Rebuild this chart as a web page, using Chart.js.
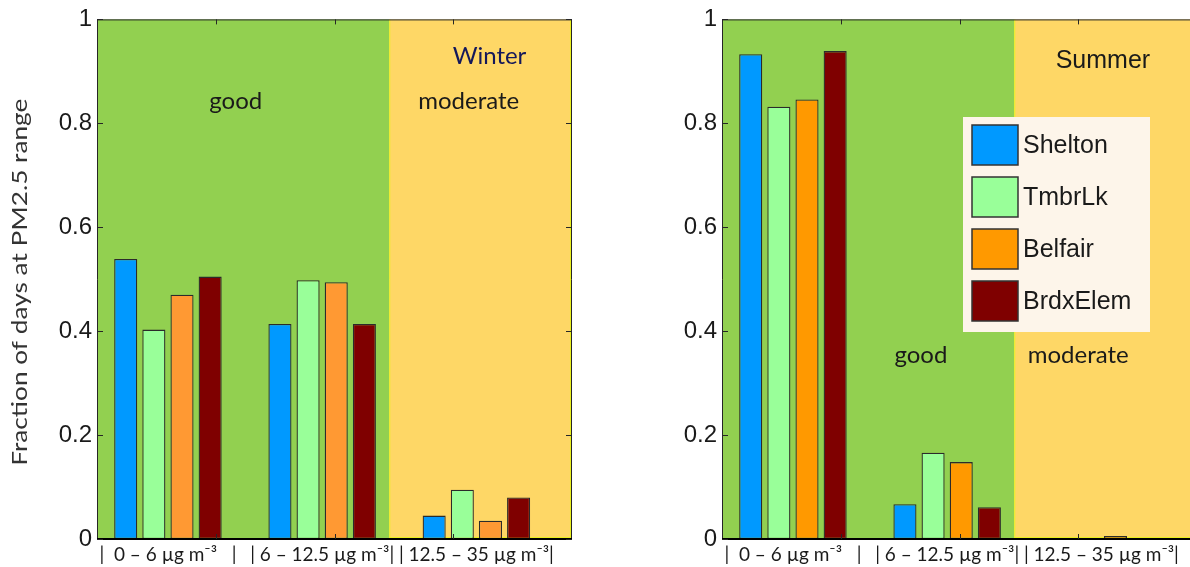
<!DOCTYPE html>
<html>
<head>
<meta charset="utf-8">
<script src="https://cdn.jsdelivr.net/npm/chart.js@4/dist/chart.umd.min.js"></script>
<style>
  html, body { margin: 0; padding: 0; background: #fff; overflow: hidden; }
  #wrap { position: relative; width: 1190px; height: 567px; overflow: hidden; }
  canvas { position: absolute; top: 0; }
  #winter { left: 0; }
  #summer { left: 600px; }
</style>
</head>
<body>
<div id="wrap">
  <canvas id="winter" width="600" height="567"></canvas>
  <canvas id="summer" width="600" height="567"></canvas>
</div>
<script>
// ---- data ----
var sites = ['Shelton', 'TmbrLk', 'Belfair', 'BrdxElem'];
var rangeLabels = ['|  0 \u2013 6 \u00b5g m\u207b\u00b3   |', '| 6 \u2013 12.5 \u00b5g m\u207b\u00b3|', '| 12.5 \u2013 35 \u00b5g m\u207b\u00b3|'];
var rangePos = [1, 2, 3];
var yTicks = [0, 0.2, 0.4, 0.6, 0.8, 1];
var edgeTicks = [1.31, 2.08, 2.85];   // the odd MATLAB tick marks on top/bottom edges
var goodLimit = 2.435;                // where "good" turns into "moderate"

var winterShelton  = [0.539, 0.414, 0.045];
var winterTmbrLk   = [0.403, 0.498, 0.095];
var winterBelfair  = [0.470, 0.494, 0.035];
var winterBrdxElem = [0.505, 0.414, 0.080];

var summerShelton  = [0.933, 0.067, 0];
var summerTmbrLk   = [0.832, 0.166, 0];
var summerBelfair  = [0.846, 0.148, 0.006];
var summerBrdxElem = [0.939, 0.061, 0];

var COLORS = {
  green: '#92D050',
  yellow: '#FED766',
  edge: '#E9F01E',
  frame: '#262626',
  text: '#1a1a1a'
};

/** Backgrounds, frame, inward tick marks, text labels and legend. */
var panelPlugin = {
  id: 'panel',
  beforeDatasetsDraw: function(chart) {
    var ctx = chart.ctx, a = chart.chartArea, x = chart.scales.x;
    var split = x.getPixelForValue(goodLimit);
    ctx.save();
    ctx.fillStyle = COLORS.green;
    ctx.fillRect(a.left, a.top, split - a.left, a.bottom - a.top);
    ctx.fillStyle = COLORS.yellow;
    ctx.fillRect(split, a.top, a.right - split, a.bottom - a.top);
    ctx.strokeStyle = COLORS.edge;
    ctx.lineWidth = 1;
    ctx.beginPath();
    ctx.moveTo(split + 0.5, a.top); ctx.lineTo(split + 0.5, a.bottom);
    ctx.moveTo(split, a.bottom - 1.5); ctx.lineTo(a.right, a.bottom - 1.5);
    ctx.moveTo(a.right - 1.5, a.top); ctx.lineTo(a.right - 1.5, a.bottom);
    ctx.stroke();
    ctx.restore();
  },
  afterDatasetsDraw: function(chart, args, opts) {
    var ctx = chart.ctx, a = chart.chartArea;
    var x = chart.scales.x, y = chart.scales.y;
    ctx.save();

    // frame
    ctx.strokeStyle = COLORS.frame;
    ctx.lineWidth = 1;
    ctx.beginPath();
    ctx.moveTo(a.left + 0.5, a.bottom); ctx.lineTo(a.left + 0.5, a.top + 0.5);
    ctx.lineTo(a.right - 0.5, a.top + 0.5); ctx.lineTo(a.right - 0.5, a.bottom);
    ctx.stroke();
    ctx.strokeStyle = '#000';
    ctx.lineWidth = 2;
    ctx.beginPath();
    ctx.moveTo(a.left, a.bottom); ctx.lineTo(a.right, a.bottom);
    ctx.stroke();

    // inward tick marks
    ctx.strokeStyle = COLORS.frame;
    ctx.lineWidth = 1;
    ctx.beginPath();
    yTicks.forEach(function(v) {
      var py = Math.round(y.getPixelForValue(v)) + 0.5;
      ctx.moveTo(a.left, py); ctx.lineTo(a.left + 6, py);
      ctx.moveTo(a.right, py); ctx.lineTo(a.right - 6, py);
    });
    edgeTicks.forEach(function(v) {
      var px = Math.round(x.getPixelForValue(v)) + 0.5;
      ctx.moveTo(px, a.top); ctx.lineTo(px, a.top + 5);
      ctx.moveTo(px, a.bottom); ctx.lineTo(px, a.bottom - 5);
    });
    ctx.stroke();

    // text annotations, positioned in data units
    ctx.textAlign = 'center';
    ctx.textBaseline = 'middle';
    (opts.notes || []).forEach(function(n) {
      ctx.font = n.font;
      ctx.fillStyle = n.color || COLORS.text;
      ctx.fillText(n.text, x.getPixelForValue(n.x), y.getPixelForValue(n.y));
    });

    // y title: the source figure is stretched vertically, so stretch the text too
    if (opts.yTitle) {
      ctx.save();
      ctx.translate(opts.yTitle.x, (a.top + a.bottom) / 2 + opts.yTitle.dy);
      ctx.rotate(-Math.PI / 2);
      ctx.scale(opts.yTitle.stretch, 1);
      ctx.font = opts.yTitle.font;
      ctx.fillStyle = '#333';
      ctx.fillText(opts.yTitle.text, 0, 0);
      ctx.restore();
    }

    // legend box
    var lg = opts.legend;
    if (lg) {
      ctx.fillStyle = '#FDF5EA';
      ctx.fillRect(lg.x, lg.y, lg.w, lg.h);
      ctx.font = lg.font;
      ctx.textAlign = 'left';
      chart.data.datasets.forEach(function(ds, i) {
        var top = lg.y + lg.pad + i * lg.pitch;
        ctx.fillStyle = ds.backgroundColor;
        ctx.fillRect(lg.x + 9, top, lg.sw, lg.sh);
        ctx.strokeStyle = '#333';
        ctx.lineWidth = 1.5;
        ctx.strokeRect(lg.x + 9, top, lg.sw, lg.sh);
        ctx.fillStyle = COLORS.text;
        ctx.fillText(ds.label, lg.x + 9 + lg.sw + 5, top + lg.sh / 2 + 1);
      });
    }
    ctx.restore();
  }
};

/** Build one season panel */
function makeChart(canvasId, series, colors, opts) {
  var datasets = sites.map(function(name, i) {
    return {
      label: name,
      data: rangePos.map(function(p, j) { return { x: p, y: series[i][j] }; }),
      backgroundColor: colors[i],
      borderColor: '#2b2b2b',
      borderWidth: 1.3,
      borderSkipped: false,
      categoryPercentage: 0.73,
      barPercentage: 0.82
    };
  });

  return new Chart(document.getElementById(canvasId), {
    type: 'bar',
    data: { datasets: datasets },
    plugins: [panelPlugin],
    options: {
      responsive: false,
      animation: false,
      events: [],
      layout: { padding: { top: 18, right: opts.padRight, bottom: 0, left: 0 } },
      plugins: {
        legend: { display: false },
        tooltip: { enabled: false },
        panel: { notes: opts.notes, legend: opts.legend, yTitle: opts.yTitle }
      },
      scales: {
        x: {
          type: 'linear',
          min: 0.54,
          max: 3.62,
          offset: false,
          grid: { display: false, drawTicks: false, offset: false },
          border: { display: false },
          afterBuildTicks: function(scale) {
            scale.ticks = rangePos.map(function(v) { return { value: v }; });
          },
          afterFit: function(scale) { scale.height = 28; },
          ticks: {
            autoSkip: false,
            maxRotation: 0,
            minRotation: 0,
            padding: 4,
            color: COLORS.text,
            font: { family: 'Lato', size: 19 },
            callback: function(v, i) { return rangeLabels[i]; }
          }
        },
        y: {
          min: 0,
          max: 1,
          grid: { display: false, drawTicks: false },
          border: { display: false },
          afterBuildTicks: function(scale) {
            scale.ticks = yTicks.map(function(v) { return { value: v }; });
          },
          afterFit: function(scale) { scale.width = opts.axisWidth; },
          ticks: {
            padding: 5,
            color: COLORS.text,
            font: { family: 'Liberation Sans', size: 24 },
            callback: function(v) { return String(v); }
          }
        }
      }
    }
  });
}

makeChart('winter',
  [winterShelton, winterTmbrLk, winterBelfair, winterBrdxElem],
  ['#0099FF', '#99FF99', '#FF9933', '#7F0000'],
  {
    axisWidth: 97,
    padRight: 28,
    yTitle: { text: 'Fraction of days at PM2.5 range', x: 20, dy: 3, stretch: 1.25, font: '21px Lato' },
    notes: [
      { text: 'good', x: 1.44, y: 0.843, font: '24px Lato' },
      { text: 'moderate', x: 2.95, y: 0.843, font: '24px Lato' },
      { text: 'Winter', x: 3.085, y: 0.929, font: '24px Lato', color: '#14185A' }
    ]
  });

makeChart('summer',
  [summerShelton, summerTmbrLk, summerBelfair, summerBrdxElem],
  ['#0099FF', '#99FF99', '#FF9900', '#7F0000'],
  {
    axisWidth: 122,
    padRight: 3,
    notes: [
      { text: 'Summer', x: 3.01, y: 0.919, font: '25px "Liberation Sans"' },
      { text: 'good', x: 1.83, y: 0.353, font: '24px Lato' },
      { text: 'moderate', x: 2.85, y: 0.353, font: '24px Lato' }
    ],
    legend: { x: 363, y: 117, w: 187, h: 215, pad: 8, pitch: 52, sw: 46, sh: 40, font: '25px "Liberation Sans"' }
  });
</script>
</body>
</html>
